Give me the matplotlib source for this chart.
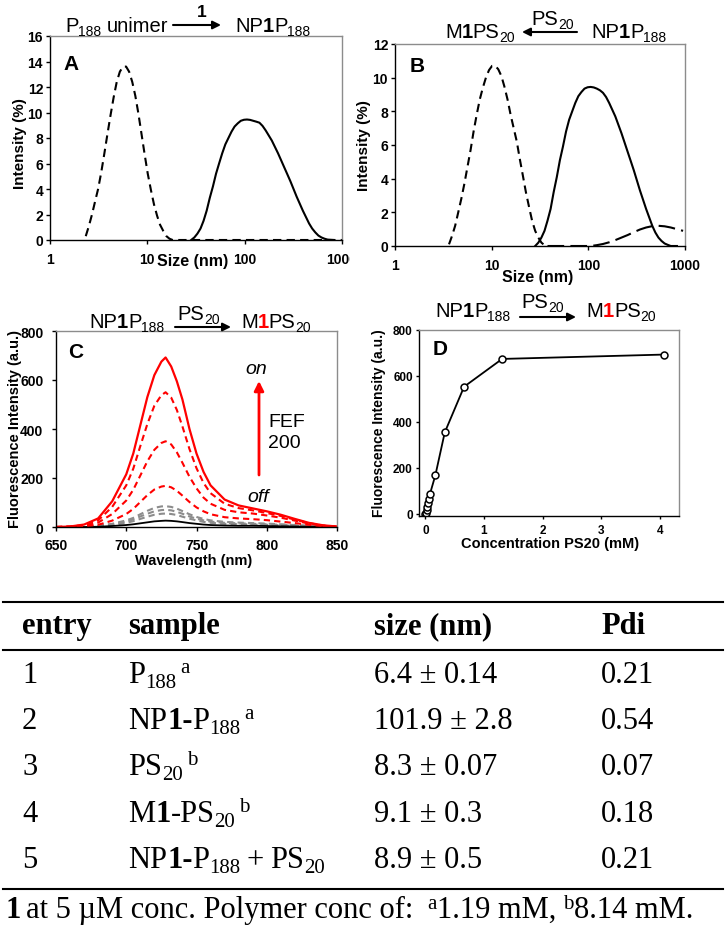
import matplotlib
matplotlib.use('Agg')
import matplotlib.pyplot as plt
from matplotlib.transforms import IdentityTransform, Bbox, TransformedBbox
from matplotlib.patches import FancyArrowPatch
from matplotlib.lines import Line2D

W, H = 726, 929
SANS = 'Liberation Sans'
SERIF = 'Liberation Serif'
plt.rcParams['font.family'] = [SANS, 'DejaVu Sans']

# ---------------- data ----------------
# Panel A (DLS, size distribution by intensity)
a_unimer_size = [2.33, 2.51, 2.70, 2.90, 3.12, 3.36, 3.62, 3.89, 4.19, 4.51, 4.85, 5.22,
                 5.62, 6.05, 6.50, 7.00, 7.53, 8.10, 8.72, 9.39, 10.1, 10.9, 11.7, 12.6,
                 13.5, 14.6, 15.7, 16.9, 18.2, 1000]
a_unimer_int = [0.3, 1.1, 2.0, 3.0, 4.0, 5.3, 6.8, 8.3, 9.8, 11.2, 12.4, 13.2,
                13.6, 13.6, 13.2, 12.4, 11.3, 9.9, 8.3, 6.7, 5.2, 3.9, 2.8, 1.9,
                1.2, 0.7, 0.3, 0.1, 0.0, 0.0]
a_np_size = [28.2, 30.4, 32.7, 35.2, 37.8, 40.7, 43.8, 47.2, 50.8, 54.6, 58.8, 63.3,
             68.1, 73.3, 78.8, 84.9, 91.3, 98.3, 105.7, 113.8, 122.4, 131.8, 141.8, 152.6,
             164.2, 176.7, 190.1, 204.6, 220.2, 237.0, 255.0, 274.5, 295.3, 317.8, 342.0, 368.1,
             396.1, 426.3, 458.7, 493.7, 531.2, 571.7, 615.1, 662.0, 712.4, 825.0]
a_np_int = [0.0, 0.2, 0.5, 0.9, 1.5, 2.3, 3.3, 4.2, 5.2, 6.0, 6.8, 7.5,
            8.0, 8.5, 8.9, 9.15, 9.35, 9.43, 9.45, 9.42, 9.35, 9.28, 9.2, 8.95,
            8.6, 8.2, 7.8, 7.3, 6.8, 6.25, 5.7, 5.15, 4.6, 4.0, 3.4, 2.85,
            2.3, 1.8, 1.3, 0.9, 0.6, 0.35, 0.2, 0.1, 0.03, 0.0]

# Panel B
b_m_size = [3.62, 3.89, 4.19, 4.51, 4.85, 5.22, 5.62, 6.05, 6.50, 7.00, 7.53, 8.10,
            8.72, 9.39, 10.1, 10.9, 11.7, 12.6, 13.5, 14.6, 15.7, 16.9, 18.2, 19.5,
            21.0, 22.6, 24.4, 26.2, 28.2, 30.4, 32.7, 35.2, 37.8]
b_m_int = [0.1, 0.6, 1.2, 2.0, 2.8, 3.7, 4.7, 5.7, 6.8, 7.8, 8.7, 9.4,
           10.0, 10.45, 10.7, 10.7, 10.5, 10.1, 9.5, 8.7, 7.8, 7.0, 6.2, 5.2,
           4.2, 3.2, 2.3, 1.5, 0.9, 0.5, 0.2, 0.05, 0.0]
b_agg_size = [37.8, 105.7, 122.4, 141.8, 164.2, 190.1, 220.2, 255.0, 295.3, 342.0,
              396.1, 458.7, 531.2, 615.1, 712.4, 825.0, 955.4]
b_agg_int = [0.0, 0.0, 0.05, 0.12, 0.22, 0.35, 0.5, 0.65, 0.82, 0.98,
             1.1, 1.18, 1.2, 1.17, 1.1, 1.0, 0.9]
b_np_size = [28.2, 30.4, 32.7, 35.2, 37.8, 40.7, 43.8, 47.2, 50.8, 54.6, 58.8, 63.3,
             68.1, 73.3, 78.8, 84.9, 91.3, 98.3, 105.7, 113.8, 122.4, 131.8, 141.8, 152.6,
             164.2, 176.7, 190.1, 204.6, 220.2, 237.0, 255.0, 274.5, 295.3, 317.8, 342.0, 368.1,
             396.1, 426.3, 458.7, 493.7, 531.2, 571.7, 615.1, 662.0, 712.4, 825.0]
b_np_int = [0.0, 0.2, 0.5, 0.9, 1.5, 2.2, 3.2, 4.1, 5.1, 5.9, 6.8, 7.5,
            8.0, 8.5, 8.9, 9.15, 9.35, 9.43, 9.45, 9.42, 9.35, 9.25, 9.1, 8.85,
            8.5, 8.1, 7.7, 7.2, 6.7, 6.15, 5.6, 5.05, 4.5, 3.9, 3.3, 2.75,
            2.2, 1.7, 1.2, 0.8, 0.5, 0.3, 0.15, 0.07, 0.0, 0.0]

# Panel C (emission spectra)
wavelength = [650, 660, 670, 680, 690, 700, 705, 710, 715, 720, 725, 728, 732, 736,
              740, 745, 750, 755, 760, 770, 780, 790, 800, 810, 820, 830, 840, 850]
spec_on = [0, 2, 10, 35, 105, 215, 300, 415, 530, 620, 675, 692, 655, 595,
           520, 400, 300, 225, 170, 112, 88, 76, 64, 50, 33, 17, 7, 2]
spec_red_1 = [0, 2, 8, 27, 82, 170, 238, 330, 420, 495, 538, 550, 528, 478,
              410, 318, 240, 180, 138, 95, 77, 68, 57, 45, 30, 16, 6, 2]
spec_red_2 = [0, 1, 5, 18, 53, 108, 152, 210, 268, 315, 343, 350, 337, 305,
              262, 205, 158, 120, 95, 70, 60, 55, 47, 38, 26, 14, 5, 1]
spec_red_3 = [0, 1, 3, 9, 26, 53, 74, 102, 130, 153, 165, 168, 162, 148,
              128, 102, 80, 64, 52, 40, 35, 32, 28, 22, 16, 9, 3, 1]
spec_gray_1 = [0, 0, 2, 5, 13, 27, 37, 52, 66, 78, 84, 85, 82, 75,
               65, 52, 41, 33, 27, 21, 18, 16, 14, 11, 8, 5, 2, 0]
spec_gray_2 = [0, 0, 1, 4, 11, 22, 31, 43, 54, 64, 69, 70, 68, 62,
               54, 43, 34, 27, 22, 17, 15, 13, 11, 9, 7, 4, 2, 0]
spec_gray_3 = [0, 0, 1, 3, 8, 17, 24, 33, 42, 50, 54, 55, 53, 49,
               42, 34, 27, 21, 17, 13, 12, 10, 9, 7, 5, 3, 1, 0]
spec_off = [0, 0, 0, 1, 4, 8, 11, 15, 19, 23, 25, 26, 25, 23,
            20, 16, 13, 10, 8, 6, 5, 5, 4, 3, 2, 1, 0, 0]

# Panel D (titration)
conc_ps20 = [0.0, 0.01, 0.02, 0.03, 0.04, 0.06, 0.075, 0.17, 0.33, 0.66, 1.31, 4.07]
fluor_int = [0, 5, 15, 30, 45, 62, 84, 168, 354, 553, 674, 693]

# Table
tbl_entry = ['1', '2', '3', '4', '5']
tbl_size = ['6.4 \u00b1 0.14', '101.9 \u00b1 2.8', '8.3 \u00b1 0.07', '9.1 \u00b1 0.3', '8.9 \u00b1 0.5']
tbl_pdi = ['0.21', '0.54', '0.07', '0.18', '0.21']

# ---------------- helpers ----------------
fig = plt.figure(figsize=(W / 100, H / 100), dpi=100)
fig.patch.set_facecolor('white')
R = fig.canvas.get_renderer()


def add_ax(l, t, r, b):
    return fig.add_axes([l / W, 1 - b / H, (r - l) / W, (b - t) / H])


def rich(x, y, segs, ha='left', family=SANS):
    """segs: list of (text, props). y is baseline in px from top."""
    items = []
    total = 0.0
    for s, p in segs:
        p = dict(p)
        dy = p.pop('dy', 0)
        gap = p.pop('gap', 0)
        p.setdefault('family', family)
        t = fig.text(0, 0, s, transform=IdentityTransform(), va='baseline', ha='left', **p)
        w = t.get_window_extent(R).width
        items.append((t, total + gap, dy))
        total += gap + w
    x0 = x - (total / 2 if ha == 'center' else (total if ha == 'right' else 0))
    for t, off, dy in items:
        t.set_position((x0 + off, H - y + dy))
    return total


def ptext(x, y, s, **kw):
    return fig.text(x, H - y, s, transform=IdentityTransform(), **kw)


def arrow(x1, y1, x2, y2, color='k', lw=1.5, ms=12):
    fig.add_artist(FancyArrowPatch((x1, H - y1), (x2, H - y2), transform=IdentityTransform(),
                                   arrowstyle='-|>', mutation_scale=ms, lw=lw, color=color,
                                   shrinkA=0, shrinkB=0))


def style(ax, fs, tl, padx, pady):
    for s in ['left', 'bottom']:
        ax.spines[s].set_color('black')
        ax.spines[s].set_linewidth(1.0)
    for s in ['top', 'right']:
        ax.spines[s].set_color('#8c8c8c')
        ax.spines[s].set_linewidth(1.0)
    ax.tick_params(direction='out', length=tl, width=1.0, labelsize=fs)
    ax.tick_params(axis='x', pad=padx)
    ax.tick_params(axis='y', pad=pady)
    ax.minorticks_off()
    for lab in ax.get_xticklabels() + ax.get_yticklabels():
        lab.set_fontweight('bold')


BIG = 14.5
SUB = 10
TICK = 10
ALAB = 11.5

# ---------------- Panel A ----------------
axA = add_ax(50, 37, 342, 241)
axA.plot(a_unimer_size, a_unimer_int, color='k', lw=1.5, dashes=(4, 2.5))
axA.plot(a_np_size, a_np_int, color='k', lw=1.5)
axA.set_xscale('log')
axA.set_xlim(1, 1000)
axA.set_ylim(0, 16)
axA.set_xticks([1, 10, 100, 1000], ['1', '10', '100', '1000'])
axA.set_yticks(range(0, 17, 2))
style(axA, TICK, 3, 6, 2)
lab1000 = axA.get_xticklabels()[-1]
lab1000.set_clip_on(True)
lab1000.set_clip_box(TransformedBbox(Bbox([[0, 0], [350, H]]), IdentityTransform()))
rich(63, 70, [('A', dict(size=15, weight='bold'))])
ptext(20, 144, 'Intensity (%)', rotation=90, ha='center', va='center', size=11, weight='bold')
ptext(193, 262, 'Size (nm)', ha='center', va='center', size=ALAB, weight='bold')
rich(65, 32, [('P', dict(size=BIG)), ('188', dict(size=SUB, dy=-4)),
              ('unimer', dict(size=BIG, gap=5))])
arrow(173, 26, 221, 26)
rich(202, 17, [('1', dict(size=12.5, weight='bold'))], ha='center')
rich(235, 32, [('NP', dict(size=BIG)), ('1', dict(size=BIG, weight='bold')),
               ('P', dict(size=BIG)), ('188', dict(size=SUB, dy=-4))])

# ---------------- Panel B ----------------
axB = add_ax(395, 45, 685, 247)
axB.plot(b_m_size, b_m_int, color='k', lw=1.5, dashes=(4, 2.5))
axB.plot(b_agg_size, b_agg_int, color='k', lw=1.5, dashes=(8, 3))
axB.plot(b_np_size, b_np_int, color='k', lw=1.5)
axB.set_xscale('log')
axB.set_xlim(1, 1000)
axB.set_ylim(0, 12)
axB.set_xticks([1, 10, 100, 1000], ['1', '10', '100', '1000'])
axB.set_yticks(range(0, 13, 2))
style(axB, TICK, 3, 6, 2)
rich(410, 72, [('B', dict(size=15, weight='bold'))])
ptext(364, 146, 'Intensity (%)', rotation=90, ha='center', va='center', size=11, weight='bold')
ptext(538, 278, 'Size (nm)', ha='center', va='center', size=ALAB, weight='bold')
rich(445, 38, [('M', dict(size=BIG)), ('1', dict(size=BIG, weight='bold')),
               ('PS', dict(size=BIG)), ('20', dict(size=SUB, dy=-4))])
arrow(577, 33, 522, 33)
rich(553, 25, [('PS', dict(size=BIG)), ('20', dict(size=SUB, dy=-4))], ha='center')
rich(591, 38, [('NP', dict(size=BIG)), ('1', dict(size=BIG, weight='bold')),
               ('P', dict(size=BIG)), ('188', dict(size=SUB, dy=-4))])

# ---------------- Panel C ----------------
axC = add_ax(56, 332, 337, 528)
red_dash = dict(color='red', lw=1.5, dashes=(3, 2))
gray_dash = dict(color='#8c8c8c', lw=1.5, dashes=(3, 2))
axC.plot(wavelength, spec_gray_1, **gray_dash)
axC.plot(wavelength, spec_gray_2, **gray_dash)
axC.plot(wavelength, spec_gray_3, **gray_dash)
axC.plot(wavelength, spec_off, color='k', lw=1.3)
axC.plot(wavelength, spec_red_3, **red_dash)
axC.plot(wavelength, spec_red_2, **red_dash)
axC.plot(wavelength, spec_red_1, **red_dash)
axC.plot(wavelength, spec_on, color='red', lw=1.6)
axC.set_xlim(650, 850)
axC.set_ylim(0, 800)
axC.set_xticks(range(650, 851, 50))
axC.set_yticks(range(0, 801, 200))
style(axC, TICK, 3, 5, 6)
rich(68, 358, [('C', dict(size=15, weight='bold'))])
ptext(15, 429, 'Fluorescence Intensity (a.u.)', rotation=90, ha='center', va='center',
      size=10.5, weight='bold')
ptext(194, 561, 'Wavelength (nm)', ha='center', va='center', size=10.5, weight='bold')
rich(245, 374, [('on', dict(size=14, style='italic'))])
rich(268, 427, [('FEF', dict(size=14))])
rich(268, 448, [('200', dict(size=14))])
rich(247, 502, [('off', dict(size=14, style='italic'))])
arrow(259, 476, 259, 382, color='red', lw=2, ms=14)
rich(89, 328, [('NP', dict(size=BIG)), ('1', dict(size=BIG, weight='bold')),
               ('P', dict(size=BIG)), ('188', dict(size=SUB, dy=-4))])
arrow(175, 328, 231, 328)
rich(199, 320, [('PS', dict(size=BIG)), ('20', dict(size=SUB, dy=-4))], ha='center')
rich(241, 328, [('M', dict(size=BIG)), ('1', dict(size=BIG, weight='bold', color='red')),
                ('PS', dict(size=BIG)), ('20', dict(size=SUB, dy=-4))])

# ---------------- Panel D ----------------
axD = add_ax(419, 331, 679, 517)
axD.plot(conc_ps20, fluor_int, '-o', color='k', lw=1.3, ms=5, mfc='white', mew=1.1)
axD.set_xlim(-0.11, 4.33)
axD.set_ylim(-10, 800)
axD.set_xticks(range(0, 5))
axD.set_yticks(range(0, 801, 200))
style(axD, 8.5, 2.5, 3, 2)
rich(433, 355, [('D', dict(size=15, weight='bold'))])
ptext(379, 423, 'Fluorescence Intensity (a.u.)', rotation=90, ha='center', va='center',
      size=10, weight='bold')
ptext(550, 544, 'Concentration PS20 (mM)', ha='center', va='center', size=10.5, weight='bold')
rich(435, 317, [('NP', dict(size=BIG)), ('1', dict(size=BIG, weight='bold')),
                ('P', dict(size=BIG)), ('188', dict(size=SUB, dy=-4))])
arrow(520, 318, 576, 318)
rich(543, 308, [('PS', dict(size=BIG)), ('20', dict(size=SUB, dy=-4))], ha='center')
rich(586, 317, [('M', dict(size=BIG)), ('1', dict(size=BIG, weight='bold', color='red')),
                ('PS', dict(size=BIG)), ('20', dict(size=SUB, dy=-4))])

# ---------------- Table ----------------
TF = 22
TS = 15
for yy in (603, 651, 890):
    fig.add_artist(Line2D([3 / W, 723 / W], [1 - yy / H, 1 - yy / H], transform=fig.transFigure,
                          color='k', lw=1.5))
col_x = [22, 128, 374, 601]
for cx, txt in zip(col_x, ['entry', 'sample', 'size (nm)', 'Pdi']):
    rich(cx, 634, [(txt, dict(size=TF, weight='bold'))], family=SERIF)

row_y = [683, 729, 775, 822, 868]
samples = [
    [('P', dict(size=TF)), ('188', dict(size=TS, dy=-5)), ('a', dict(size=TS, dy=10, gap=4))],
    [('NP', dict(size=TF)), ('1-', dict(size=TF, weight='bold')), ('P', dict(size=TF)),
     ('188', dict(size=TS, dy=-5)), ('a', dict(size=TS, dy=10, gap=4))],
    [('PS', dict(size=TF)), ('20', dict(size=TS, dy=-5)), ('b', dict(size=TS, dy=10, gap=4))],
    [('M', dict(size=TF)), ('1', dict(size=TF, weight='bold')), ('-PS', dict(size=TF)),
     ('20', dict(size=TS, dy=-5)), ('b', dict(size=TS, dy=10, gap=4))],
    [('NP', dict(size=TF)), ('1-', dict(size=TF, weight='bold')), ('P', dict(size=TF)),
     ('188', dict(size=TS, dy=-5)), ('+', dict(size=TF, gap=6)), ('PS', dict(size=TF, gap=6)),
     ('20', dict(size=TS, dy=-5))],
]
for i in range(5):
    rich(col_x[0], row_y[i], [(tbl_entry[i], dict(size=TF))], family=SERIF)
    rich(col_x[1], row_y[i], samples[i], family=SERIF)
    rich(col_x[2], row_y[i], [(tbl_size[i], dict(size=TF))], family=SERIF)
    rich(col_x[3], row_y[i], [(tbl_pdi[i], dict(size=TF))], family=SERIF)

rich(5, 918, [('1', dict(size=TF, weight='bold')),
              ('at 5 \u00b5M conc. Polymer conc of:', dict(size=TF, gap=6)),
              ('a', dict(size=TS, dy=9, gap=14)), ('1.19 mM,', dict(size=TF)),
              ('b', dict(size=TS, dy=9, gap=7)), ('8.14 mM.', dict(size=TF))], family=SERIF)

fig.savefig('out.png', dpi=100)
